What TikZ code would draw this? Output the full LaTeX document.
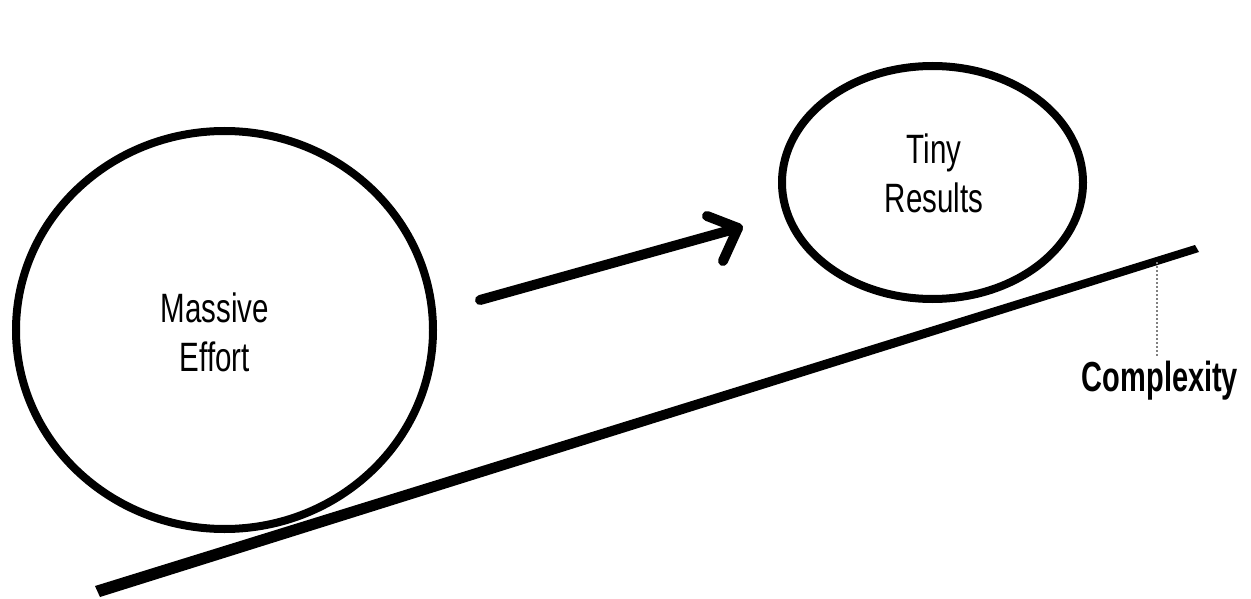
\documentclass[tikz,border=0pt]{standalone}
\usepackage{fontspec}
\setmainfont{Liberation Sans}
\newfontfamily\condfont[FakeStretch=0.72]{Liberation Sans}
\newfontfamily\condbold[FakeStretch=0.69]{Liberation Sans Bold}
\usetikzlibrary{shapes.geometric}
\begin{document}
\begin{tikzpicture}[x=1pt,y=-1pt,
  ink/.style={draw=black,line width=8pt},
  ball/.style={ink,ellipse,inner sep=0pt},
  lbl/.style={font=\condfont\fontsize{41}{49}\selectfont,align=center,anchor=center},
  thickarrow/.style={draw=black,line width=10pt,line cap=round,line join=round},
  guide/.style={draw=gray,line width=2pt,dotted},
  tag/.style={font=\condbold\fontsize{42}{44}\selectfont,anchor=base}]
\useasboundingbox (0,0) rectangle (1251,599);
\node[ball,minimum width=417pt,minimum height=398pt] (effort) at (224.5,330) {};
\node[ball,minimum width=301pt,minimum height=233pt] (results) at (932.5,182.5) {};
\node[lbl] (efforttext) at (215,332) {Massive\\Effort};
\node[lbl] (resultstext) at (934,173) {Tiny\\Results};
% ground line
\coordinate (gA) at (98,592);
\coordinate (gB) at (1197,249);
\fill[black] (95,586) -- (1195,245) -- (1199,252) -- (100,597) -- cycle;
% arrow
\coordinate (aS) at (480,300);
\coordinate (aE) at (738,228);
\coordinate (aB1) at (707,216);
\coordinate (aB2) at (723,261);
\draw[thickarrow] (aS) -- (aE);
\draw[thickarrow] (aB1) -- (aE) -- (aB2);
% dotted guide and label
\coordinate (dT) at (1157,262);
\node[tag] (cx) at (1160,391) {Complexity};
\draw[guide] (dT) -- (cx.north -| dT);
\end{tikzpicture}
\end{document}
